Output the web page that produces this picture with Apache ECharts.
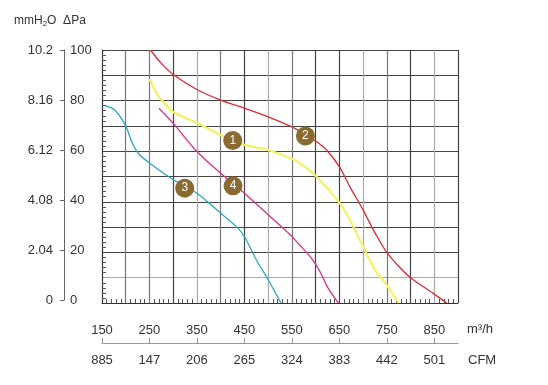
<!DOCTYPE html>
<html>
<head>
<meta charset="utf-8">
<script src="https://cdn.jsdelivr.net/npm/echarts@6/dist/echarts.min.js"></script>
<style>html,body{margin:0;padding:0;background:#fff;}#c{width:548px;height:385px;}</style>
</head>
<body>
<div id="c"></div>
<script>
// ---- data ----
var curve1 = [[250,88.5],[268,82],[282,79],[300,75.5],[350,71.2],[400,66.4],[450,62.5],[500,60.5],[550,57],[566,55.3],[600,50.3],[650,39.7],[672,32.9],[700,22.3],[725,13.1],[750,7],[775,0]];
var curve2 = [[252,100],[275,94.7],[300,90.3],[350,84.4],[400,80.2],[450,77],[500,73.6],[550,69.6],[578,66.5],[600,64],[623,60.5],[650,53.9],[672,46],[700,36.8],[718,30.2],[735,24.5],[750,20],[775,14.5],[800,10],[847,3.9],[876,0]];
var curve3 = [[157,77.9],[177,76.3],[200,70],[212,64],[225,59.5],[250,55.3],[300,48.7],[350,43.4],[400,35.5],[433,30.2],[450,26.3],[475,17.1],[500,9.2],[527,0]];
var curve4 = [[270,77],[300,71],[350,59.9],[400,51.3],[450,43.4],[500,34.9],[550,26.3],[566,23],[590,18],[609,12.5],[626,6],[648,0]];
var badgeNames = ['1','2','3','4'];
var badgePoints = [[425.4,64.2],[578.6,66],[324.3,45.4],[426,46.3]];
var m3hTicks = [150,250,350,450,550,650,750,850];
var cfmLabels = ['885','147','206','265','324','383','442','501'];
var paTicks = [0,20,40,60,80,100];
var mmLabels = ['0','2.04','4.08','6.12','8.16','10.2'];

var D='#444', M='#777', L='#aaa';
var xGridColors = [D,M,M,D,L,M,D,L,M,D,D,L,M,D,L,D];
var yGridColors = [D,L,D,D,D,D,D,D,D,D,D];
var FONT = 'Liberation Sans';
var TXT = '#333';

var chart = echarts.init(document.getElementById('c'), null, {renderer:'canvas'});
var lineS = function(data, color, w){
  return {type:'line', xAxisIndex:0, yAxisIndex:0, data:data, smooth:0.3, showSymbol:false,
    lineStyle:{color:color, width:w}, itemStyle:{color:color}, z:3, silent:true};
};
chart.setOption({
  animation:false,
  backgroundColor:'#fff',
  grid:[
    {left:102, top:50, width:356, height:253, show:false},
    {left:64, top:50, width:1, height:250, show:false}
  ],
  xAxis:[
    {gridIndex:0, type:'value', min:150, max:900, interval:50,
     axisLine:{show:true, lineStyle:{color:'#333', width:1}},
     axisTick:{show:false, inside:true},
     minorTick:{show:true, splitNumber:5, length:4, lineStyle:{color:'#555'}},
     splitLine:{show:true, lineStyle:{color:xGridColors, width:1.2}},
     axisLabel:{show:false}},
    {gridIndex:0, type:'value', min:150, max:900, position:'bottom',
     axisLine:{show:false}, axisTick:{show:false}, splitLine:{show:false},
     axisLabel:{customValues:m3hTicks, margin:21, fontFamily:FONT, fontSize:13, color:TXT,
       formatter:function(v){return String(v);}}},
    {gridIndex:0, type:'value', min:150, max:900, position:'bottom', offset:40,
     axisLine:{show:true, lineStyle:{color:'#999', width:1}},
     axisTick:{show:true, inside:true, length:5, customValues:m3hTicks, lineStyle:{color:'#999'}},
     splitLine:{show:false},
     axisLabel:{customValues:m3hTicks, margin:11, fontFamily:FONT, fontSize:13, color:TXT,
       formatter:function(v){var i=m3hTicks.indexOf(Math.round(v));return i<0?'':cfmLabels[i];}}},
    {gridIndex:1, type:'value', min:0, max:1, show:false}
  ],
  yAxis:[
    {gridIndex:0, type:'value', min:0, max:100, interval:10,
     axisLine:{show:true, lineStyle:{color:'#333', width:1}},
     axisTick:{show:false, inside:true},
     minorTick:{show:true, splitNumber:5, length:4, lineStyle:{color:'#555'}},
     splitLine:{show:true, lineStyle:{color:yGridColors, width:1.2}},
     axisLabel:{show:false}},
    {gridIndex:1, type:'value', min:0, max:100, interval:20, position:'left',
     axisLine:{show:true, lineStyle:{color:'#666', width:1}},
     axisTick:{show:true, inside:false, length:4, lineStyle:{color:'#666'}},
     splitLine:{show:false},
     axisLabel:{inside:true, margin:6, fontFamily:FONT, fontSize:13, color:TXT,
       formatter:function(v){return String(v);}}},
    {gridIndex:1, type:'value', min:0, max:100, interval:20, position:'left',
     axisLine:{show:false}, axisTick:{show:false}, splitLine:{show:false},
     axisLabel:{margin:11, fontFamily:FONT, fontSize:13, color:TXT,
       formatter:function(v){var i=paTicks.indexOf(Math.round(v));return i<0?'':mmLabels[i];}}}
  ],
  series:[
    lineS(curve2, '#df2a36', 1.3),
    lineS(curve1, '#f6f161', 2.2),
    lineS(curve4, '#d8328c', 1.3),
    lineS(curve3, '#2aa7c2', 1.3),
    {type:'scatter', xAxisIndex:0, yAxisIndex:0, symbolSize:19, z:5, silent:true,
     itemStyle:{color:'#8b6a31', opacity:1},
     data: badgePoints.map(function(p,i){return {value:[p[0],p[1]], name:badgeNames[i]};}),
     label:{show:true, position:'inside', formatter:'{b}', color:'#fff', fontFamily:FONT, fontSize:12}}
  ],
  graphic:[
    {type:'text', left:14, top:15, style:{
      text:'mmH{s|2}O  ΔPa', fontFamily:FONT, fontSize:12, fill:TXT,
      rich:{s:{fontFamily:FONT, fontSize:8, fill:TXT, verticalAlign:'bottom', padding:[6,0,0,0]}}}},
    {type:'text', left:467, top:323, style:{text:'m³/h', fontFamily:FONT, fontSize:13, fill:TXT}},
    {type:'text', left:468, top:354, style:{text:'CFM', fontFamily:FONT, fontSize:13, fill:TXT}}
  ]
});
</script>
</body>
</html>
